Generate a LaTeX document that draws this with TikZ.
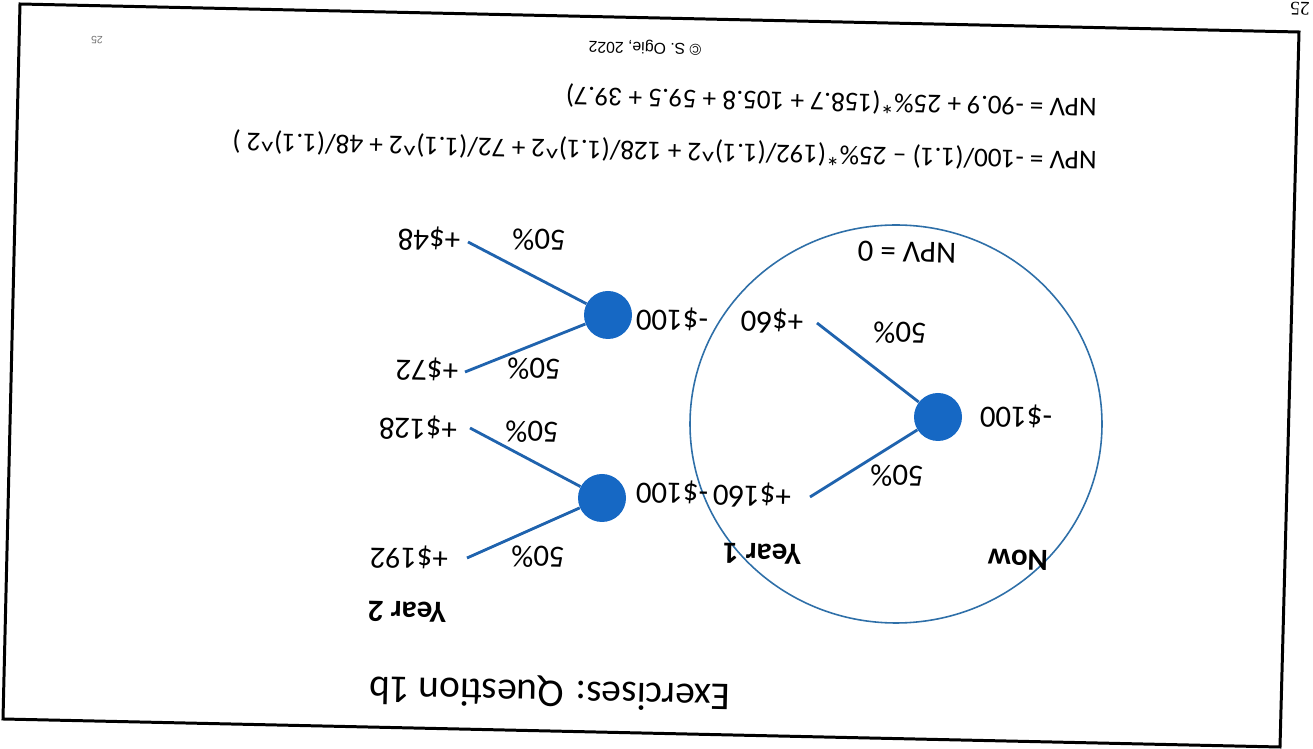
\documentclass[tikz,border=0pt]{standalone}
\usepackage{fontspec}
\setmainfont{Carlito}
\newfontfamily\serfont{Liberation Serif}
\newfontfamily\arialfont{Liberation Sans}
\definecolor{dotblue}{HTML}{1668C4}
\definecolor{lineblue}{HTML}{1F63AE}
\definecolor{ringblue}{HTML}{2E6FA8}
\begin{document}
\begin{tikzpicture}[x=0.02cm,y=-0.02cm,
  lbl/.style={rotate=178.75, inner sep=0pt, font=\fontsize{17.6}{20}\selectfont},
  bold/.style={lbl, font=\fontsize{17.6}{20}\selectfont\bfseries},
  formula/.style={rotate=178.75, inner sep=0pt, anchor=west, font=\fontsize{15.5}{18}\selectfont},
  dot/.style={circle, fill=dotblue, minimum size=48*0.02cm, inner sep=0pt},
  branch/.style={draw=lineblue, line width=1.6pt},
  ring/.style={draw=ringblue, line width=0.9pt}]
\useasboundingbox (0,0) rectangle (1313,749);
\fill[white] (0,0) rectangle (1313,749);
% page frame
\coordinate (f1) at (20,4);
\coordinate (f2) at (1299,32);
\coordinate (f3) at (1280,747);
\coordinate (f4) at (3,719);
\draw[line width=1.7pt, line join=miter] (f1) -- (f2) -- (f3) -- (f4) -- cycle;
\node[rotate=178.75, inner sep=0pt, font=\serfont\fontsize{11}{12}\selectfont] (pg) at (1300,9) {25};
\node[rotate=178.75, inner sep=0pt, text=black!55, font=\arialfont\fontsize{6}{7}\selectfont] (pgs) at (97,40) {25};
\node[rotate=178.75, inner sep=0pt, font=\arialfont\fontsize{9}{10}\selectfont] (copy) at (645,47) {\textcopyright\ S. Ogie, 2022};
% formulas
\node[formula] (f1t) at (1097,160) {NPV = -100/(1.1) – 25\%*(192/(1.1)\textasciicircum2 + 128/(1.1)\textasciicircum2 + 72/(1.1)\textasciicircum2 + 48/(1.1)\textasciicircum2 )};
\node[formula] (f2t) at (1097,107) {NPV = -90.9 + 25\%*(158.7 + 105.8 + 59.5 + 39.7)};
% title
\node[rotate=178.75, inner sep=0pt, font=\fontsize{22.4}{26}\selectfont] (title) at (550,692) {Exercises: Question 1b};
% ring
\draw[ring] (896,424) ellipse [x radius=206, y radius=199];
\node[lbl] (npv0) at (907,252) {NPV = 0};
% nodes
\node[dot] (root) at (938,417) {};
\node[dot] (up) at (608,315) {};
\node[dot] (lo) at (602,498) {};
% labels
\node[lbl] (r100) at (1016,416) {-\$100};
\node[lbl] (p60) at (772,321) {+\$60};
\node[lbl] (p160) at (752,495) {+\$160};
\node[lbl] (u100) at (672,319) {-\$100};
\node[lbl] (l100) at (672,492) {-\$100};
\node[lbl] (pc1) at (900,333) {50\%};
\node[lbl] (pc2) at (897,476) {50\%};
\node[lbl] (p48) at (429,239) {+\$48};
\node[lbl] (pc48) at (539,240) {50\%};
\node[lbl] (p72) at (427,369) {+\$72};
\node[lbl] (pc72) at (534,369) {50\%};
\node[lbl] (p128) at (418,428) {+\$128};
\node[lbl] (pc128) at (532,432) {50\%};
\node[lbl] (p192) at (409,557) {+\$192};
\node[lbl] (pc192) at (538,557) {50\%};
\node[bold] (now) at (1018,560) {Now};
\node[bold] (y1) at (762,554) {Year 1};
\node[bold] (y2) at (407,612) {Year 2};
% branch ends
\coordinate (e60) at (817,323);
\coordinate (e160) at (810,497);
\coordinate (e48) at (468,242);
\coordinate (e72) at (465,372);
\coordinate (e128) at (470,428);
\coordinate (e192) at (467,558);
\draw[branch] (root) -- (e60);
\draw[branch] (root) -- (e160);
\draw[branch] (up) -- (e48);
\draw[branch] (up) -- (e72);
\draw[branch] (lo) -- (e128);
\draw[branch] (lo) -- (e192);
\end{tikzpicture}
\end{document}
